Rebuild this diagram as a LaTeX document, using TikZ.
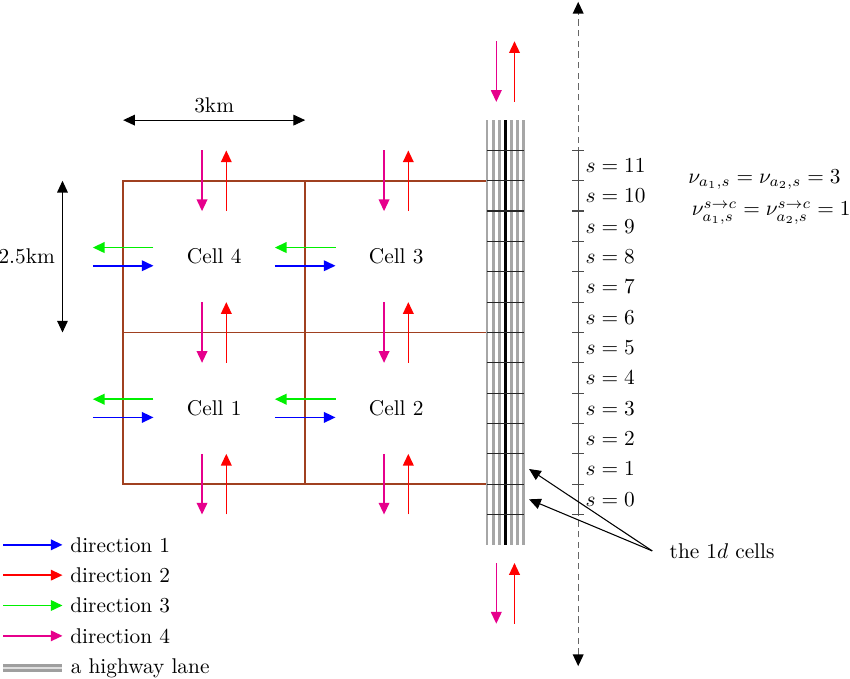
\documentclass[tikz,border=0pt]{standalone}
\usetikzlibrary{arrows.meta}
\definecolor{pinkc}{RGB}{230,0,140}
\definecolor{brownc}{RGB}{160,64,32}
\definecolor{greenc}{RGB}{0,240,0}
\tikzset{
  tipr/.style={-{Triangle[length=5.5pt,width=5pt]}},
  tipb/.style={{Triangle[length=5.5pt,width=5pt]}-{Triangle[length=5.5pt,width=5pt]}},
  d1/.style={tipr, blue, line width=0.8pt},
  d2/.style={tipr, red, line width=0.7pt},
  d3/.style={tipr, greenc, line width=0.8pt},
  d4/.style={tipr, pinkc, line width=0.7pt},
  cellline/.style={brownc, line width=0.9pt},
  lane/.style={gray!70, line width=1.2pt},
  lanelegend/.style={gray!75, double=gray!25, double distance=1.1pt, line width=1.2pt},
  slot/.style={black!85, line width=0.6pt},
  axis/.style={black!70, line width=0.6pt},
  pointer/.style={tipr, black, line width=0.5pt},
  dim/.style={tipb, black, line width=0.5pt},
  legtext/.style={right, text=black},
}
\begin{document}
\begin{tikzpicture}
\useasboundingbox (-2.03,-3.21) rectangle (11.98,7.98);
% cell grid
\draw[cellline] (6,0) -- (0,0) -- (0,5) -- (6,5);
\draw[cellline] (0,2.5) -- (6,2.5);
\draw[cellline] (3,0) -- (3,5);
\node (c4) at (1.5,3.75) {Cell 4};
\node (c3) at (4.5,3.75) {Cell 3};
\node (c1) at (1.5,1.25) {Cell 1};
\node (c2) at (4.5,1.25) {Cell 2};
% flows
\foreach \x in {0,3} {
  \foreach \y in {0,2.5,5} {
    \draw[d4] ({\x+1.3},{\y+0.5}) -- ({\x+1.3},{\y-0.5});
    \draw[d2] ({\x+1.7},{\y-0.5}) -- ({\x+1.7},{\y+0.5});
  }
  \foreach \y in {1.25,3.75} {
    \draw[d3] ({\x+0.5},{\y+0.15}) -- ({\x-0.5},{\y+0.15});
    \draw[d1] ({\x-0.5},{\y-0.15}) -- ({\x+0.5},{\y-0.15});
  }
}
% highway
\foreach \x in {6.0,6.1,6.2,6.4,6.5,6.6} \draw[lane] (\x,-1) -- (\x,6);
\draw[black, line width=1.2pt] (6.3,-1) -- (6.3,6);
\foreach \k in {0,...,12} \draw[slot] (6,{-0.5+0.5*\k}) -- (6.6,{-0.5+0.5*\k});
\draw[d4] (6.15,7.3) -- (6.15,6.3);
\draw[d2] (6.45,6.3) -- (6.45,7.3);
\draw[d4] (6.15,-1.3) -- (6.15,-2.3);
\draw[d2] (6.45,-2.3) -- (6.45,-1.3);
% s axis
\draw[{Triangle[length=5.5pt,width=5pt,color=black]}-{Triangle[length=5.5pt,width=5pt,color=black]}, black!60, line width=0.6pt, dash pattern=on 3pt off 2pt] (7.5,-3) -- (7.5,7.95);
\draw[axis] (7.5,-0.5) -- (7.5,5.5);
\foreach \k in {0,...,12} \draw[axis] (7.4,{-0.5+0.5*\k}) -- (7.6,{-0.5+0.5*\k});
\foreach \k in {0,...,11} \node[right] (s\k) at (7.5,{-0.25+0.5*\k}) {$s=\k$};
% formulas
\node[inner sep=1pt] (nu1) at (10.57,5.02) {$\nu_{a_1,s}=\nu_{a_2,s}=3$};
\node[inner sep=1pt] (nu2) at (10.68,4.47) {$\nu^{s\to c}_{a_1,s}=\nu^{s\to c}_{a_2,s}=1$};
% 1d cells pointer
\node[right, inner xsep=8pt] (lab) at (8.72,-1.1) {the $1d$ cells};
\coordinate (h1) at (6.69,0.25);
\coordinate (h0) at (6.69,-0.25);
\draw[pointer] (lab.west) -- (h1);
\draw[pointer] (lab.west) -- (h0);
% dimensions
\draw[dim] (0,6) -- node[above] (w3) {3km} (3,6);
\draw[dim] (-1,2.5) -- node[left] (h25) {2.5km} (-1,5);
% legend
\draw[d1] (-1.98,-1) -- (-1,-1) node[legtext] (l1) {direction 1};
\draw[d2] (-1.98,-1.5) -- (-1,-1.5) node[legtext] (l2) {direction 2};
\draw[d3] (-1.98,-2) -- (-1,-2) node[legtext] (l3) {direction 3};
\draw[d4] (-1.98,-2.5) -- (-1,-2.5) node[legtext] (l4) {direction 4};
\draw[lanelegend] (-1.98,-3.03) -- (-1,-3.03) node[legtext] (l5) {a highway lane};
\end{tikzpicture}
\end{document}
